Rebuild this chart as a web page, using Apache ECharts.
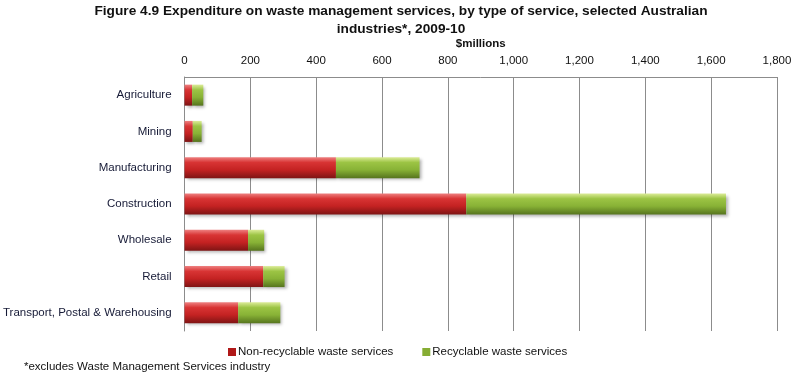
<!DOCTYPE html>
<html>
<head>
<meta charset="utf-8">
<script src="https://cdn.jsdelivr.net/npm/echarts@6/dist/echarts.min.js"></script>
<style>html,body{margin:0;padding:0;background:#fff}#c{width:801px;height:380px}</style>
</head>
<body>
<div id="c"></div>
<script>
var categories = ["Agriculture","Mining","Manufacturing","Construction","Wholesale","Retail","Transport, Postal & Warehousing"];
var nonRecyclable = [23, 25, 460, 856, 193, 239, 163];
var recyclable = [34, 27, 254, 789, 49, 65, 128];
var seriesNames = ["Non-recyclable waste services","Recyclable waste services"];
var titleText = "Figure 4.9 Expenditure on waste management services, by type of service, selected Australian\nindustries*, 2009-10";
var axisName = "$millions";
var footnote = "*excludes Waste Management Services industry";

var FONT = "Liberation Sans";
var redGrad = new echarts.graphic.LinearGradient(0,0,0,1,[
  {offset:0,color:'#ee8080'},{offset:0.25,color:'#d83434'},{offset:0.6,color:'#c42222'},{offset:1,color:'#7e1414'}]);
var greenGrad = new echarts.graphic.LinearGradient(0,0,0,1,[
  {offset:0,color:'#dcec98'},{offset:0.25,color:'#9cc444'},{offset:0.6,color:'#88b236'},{offset:1,color:'#56741e'}]);

var chart = echarts.init(document.getElementById('c'), null, {renderer:'canvas'});
chart.setOption({
  animation:false,
  textStyle:{fontFamily:FONT},
  title:{text:titleText,left:396,top:-3,textAlign:'center',
    textStyle:{fontFamily:FONT,fontSize:13.7,fontWeight:'bold',color:'#111',lineHeight:18}},
  grid:{left:184,right:24,top:77,bottom:49,containLabel:false},
  legend:{left:223,top:341,itemWidth:8,itemHeight:8,itemGap:29,icon:'rect',
    textStyle:{fontFamily:FONT,fontSize:11.5,color:'#111',padding:[0,0,0,-3]},
    data:[{name:seriesNames[0],itemStyle:{color:'#b01818'}},{name:seriesNames[1],itemStyle:{color:'#86ad34'}}]},
  xAxis:{type:'value',position:'top',min:0,max:1800,interval:200,
    name:axisName,nameLocation:'middle',nameGap:27,
    nameTextStyle:{fontFamily:FONT,fontSize:11.5,fontWeight:'bold',color:'#111'},
    axisLine:{show:true,lineStyle:{color:'#8c8c8c',width:1}},
    axisTick:{show:false},
    axisLabel:{margin:10,fontSize:11.5,color:'#111',fontFamily:FONT,
      formatter:function(v){return v.toLocaleString('en-US');}},
    splitLine:{show:true,lineStyle:{color:'#8c8c8c',width:1}}},
  yAxis:{type:'category',data:categories,inverse:true,
    axisLine:{show:true,lineStyle:{color:'#8c8c8c',width:1}},
    axisTick:{show:false},
    axisLabel:{margin:13,fontSize:11.5,color:'#161a36',fontFamily:FONT}},
  series:[
    {name:seriesNames[0],type:'bar',stack:'s',data:nonRecyclable,barWidth:21,
      itemStyle:{color:redGrad,shadowColor:'rgba(0,0,0,0.3)',shadowBlur:3,shadowOffsetX:2,shadowOffsetY:2}},
    {name:seriesNames[1],type:'bar',stack:'s',data:recyclable,barWidth:21,
      itemStyle:{color:greenGrad,shadowColor:'rgba(0,0,0,0.3)',shadowBlur:3,shadowOffsetX:2,shadowOffsetY:2}}
  ],
  graphic:[{type:'text',left:24,top:361,style:{text:footnote,fontFamily:FONT,fontSize:11.5,fill:'#111'}}]
});
</script>
</body>
</html>
